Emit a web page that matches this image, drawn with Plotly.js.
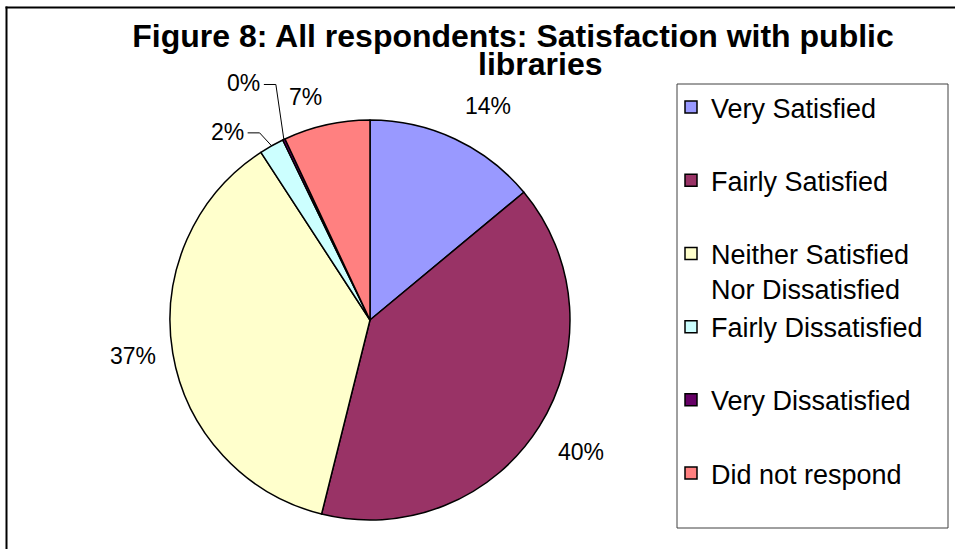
<!DOCTYPE html>
<html>
<head>
<meta charset="utf-8">
<script src="https://cdn.plot.ly/plotly-3.0.1.min.js"></script>
<style>
  html, body { margin: 0; padding: 0; background: #ffffff; }
  #chart { width: 955px; height: 549px; }
</style>
</head>
<body>
<div id="chart"></div>
<script>
// ---- data ----
const titleLine1 = 'Figure 8: All respondents: Satisfaction with public';
const titleLine2 = 'libraries';
const categories = [
  'Very Satisfied',
  'Fairly Satisfied',
  'Neither Satisfied Nor Dissatisfied',
  'Fairly Dissatisfied',
  'Very Dissatisfied',
  'Did not respond'
];
const shares = [14, 40, 37, 2, 0.2, 7];

// ---- style ----
const sliceColors = ['#9999FF', '#993366', '#FFFFCC', '#CCFFFF', '#660066', '#FF8080'];
const W = 955, H = 549;
const CX = 370, CY = 320, R = 200;
const FONT = 'Arial, "Liberation Sans", Helvetica, sans-serif';
// labels moved off the slice with a leader line: offset of the elbow from the rim point
const leaderOffsets = { 3: { dx: -12, dy: -13 }, 4: { dx: -8, dy: -55 } };
// radial gap between rim and label box (px), per slice where it differs
const labelGaps = { 2: 15, 5: 13 };

const px = x => x / W;
const py = y => 1 - y / H;

function legendText(label) {
  const words = label.split(' ');
  const lines = [];
  let cur = '';
  words.forEach(w => {
    const t = cur ? cur + ' ' + w : w;
    if (t.length > 19 && cur) { lines.push(cur); cur = w; } else { cur = t; }
  });
  lines.push(cur);
  while (lines.length < 2) lines.push(' ');
  return lines.join('<br>');
}

const total = shares.reduce((a, b) => a + b, 0);
const annotations = [];
const shapes = [];

let cum = 0;
shares.forEach((v, i) => {
  const mid = (cum + v / 2) / total * 2 * Math.PI;
  cum += v;
  const s = Math.sin(mid), c = Math.cos(mid);
  const txt = Math.round(v / total * 100) + '%';
  if (leaderOffsets[i]) {
    const ex = CX + R * s, ey = CY - R * c;
    const bx = ex + leaderOffsets[i].dx, by = ey + leaderOffsets[i].dy;
    const hx = bx - 12;
    shapes.push({
      type: 'path', xref: 'paper', yref: 'paper',
      path: `M ${px(ex)} ${py(ey)} L ${px(bx)} ${py(by)} L ${px(hx)} ${py(by)}`,
      line: { color: '#000000', width: 1 }
    });
    annotations.push({
      xref: 'paper', yref: 'paper', x: px(hx - 2), y: py(by - 1),
      xanchor: 'right', yanchor: 'middle', showarrow: false,
      text: txt, font: { family: FONT, size: 23, color: '#000000' }
    });
  } else {
    const r = R + (labelGaps[i] !== undefined ? labelGaps[i] : 20);
    const lx = CX + r * s, ly = CY - r * c;
    const xa = s > 0.1 ? 'left' : (s < -0.1 ? 'right' : 'center');
    const ya = Math.abs(c) < 0.3 ? 'middle' : (c > 0 ? 'bottom' : 'top');
    annotations.push({
      xref: 'paper', yref: 'paper', x: px(lx), y: py(ly),
      xanchor: xa, yanchor: ya, showarrow: false,
      text: txt, font: { family: FONT, size: 23, color: '#000000' }
    });
  }
});

// second title line
annotations.push({
  xref: 'paper', yref: 'paper', x: px(540), y: py(64),
  xanchor: 'center', yanchor: 'middle', showarrow: false,
  text: '<b>' + titleLine2 + '</b>',
  font: { family: FONT, size: 32, color: '#000000' }
});

// legend frame and chart frame
shapes.push({
  type: 'rect', xref: 'paper', yref: 'paper',
  x0: px(677), x1: px(948), y0: py(528), y1: py(84),
  line: { color: '#404040', width: 1 }, fillcolor: 'rgba(0,0,0,0)'
});
shapes.push({
  type: 'line', xref: 'paper', yref: 'paper',
  x0: px(6.5), x1: px(6.5), y0: py(6.5), y1: py(549),
  line: { color: '#000000', width: 2 }
});
shapes.push({
  type: 'line', xref: 'paper', yref: 'paper',
  x0: px(5.5), x1: px(955), y0: py(7.5), y1: py(7.5),
  line: { color: '#000000', width: 2 }
});

const trace = {
  type: 'pie',
  labels: categories.map(legendText),
  values: shares,
  sort: false,
  direction: 'clockwise',
  rotation: 0,
  textinfo: 'none',
  hoverinfo: 'label+percent',
  marker: { colors: sliceColors, line: { color: '#000000', width: 1.5 } },
  domain: { x: [px(CX - R), px(CX + R)], y: [py(CY + R), py(CY - R)] }
};

const layout = {
  width: W, height: H,
  margin: { l: 0, r: 0, t: 0, b: 0 },
  paper_bgcolor: '#ffffff',
  title: {
    text: '<b>' + titleLine1 + '</b>',
    font: { family: FONT, size: 32, color: '#000000' },
    xref: 'paper', yref: 'paper',
    x: px(513), xanchor: 'center',
    y: py(36), yanchor: 'middle'
  },
  showlegend: true,
  legend: {
    x: px(671), y: py(83), xanchor: 'left', yanchor: 'top',
    bgcolor: 'rgba(0,0,0,0)', borderwidth: 0,
    valign: 'top',
    font: { family: FONT, size: 27, color: '#000000' }
  },
  annotations: annotations,
  shapes: shapes
};

Plotly.newPlot('chart', [trace], layout, { displayModeBar: false, staticPlot: true });
</script>
</body>
</html>
